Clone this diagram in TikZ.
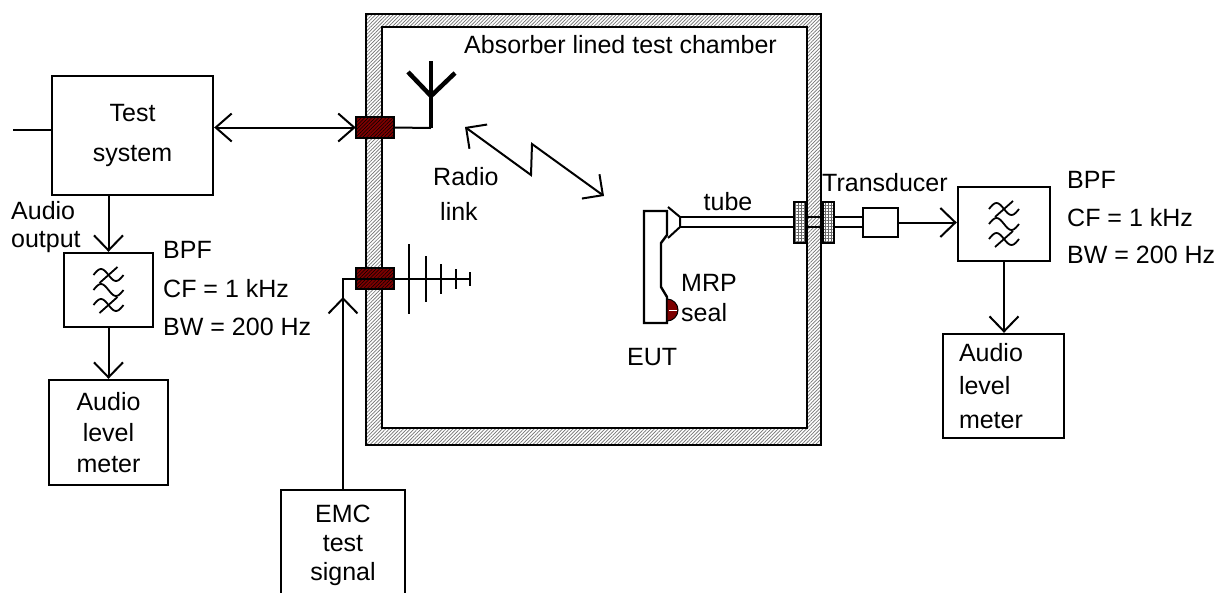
\documentclass[tikz,border=0pt]{standalone}
\usepackage{fontspec}
\setmainfont{Liberation Sans}
\usetikzlibrary{arrows.meta,patterns.meta}
\definecolor{connred}{RGB}{125,0,0}
% band pass filter glyph, three tildes
\def\bpfsym(#1){%
	\begin{scope}[shift={(#1)}, line width=1.8pt]
		\foreach \dy in {-15,0,15}
			\draw plot[smooth, domain=-15:15, samples=21] (\x, {\dy+6*sin(12*\x)});
		\draw (-9,-7) -- (9,-23);
		\draw (-9,23) -- (9,7);
	\end{scope}}

\tikzset{
	lbl/.style={inner sep=0pt, font=\fontsize{25}{30}\selectfont},
	box/.style={draw, rectangle, line width=2.4pt, inner sep=0pt, font=\fontsize{25}{31}\selectfont},
	sig/.style={line width=2pt},
	arr/.style={sig, -{Straight Barb[length=15pt,width=29pt,line width=2pt]}},
	dbl/.style={sig, {Straight Barb[length=16pt,width=28pt,line width=2pt]}-{Straight Barb[length=16pt,width=28pt,line width=2pt]}},
	zig/.style={sig, {Straight Barb[length=15pt,width=30pt,line width=2pt]}-{Straight Barb[length=15pt,width=30pt,line width=2pt]}},
	wall/.style={line width=2.4pt, preaction={fill=white}, pattern={Lines[angle=45,distance=2.5pt,line width=0.7pt]}, pattern color=black!55},
	conn/.style={draw, line width=2.4pt, minimum width=38pt, minimum height=21pt, inner sep=0pt, preaction={fill=connred}, pattern={Lines[angle=45,distance=2.5pt,line width=0.5pt]}, pattern color=black},
	gland/.style={line width=2pt, preaction={fill=white}, pattern={Hatch[distance=3pt,line width=0.5pt]}, pattern color=black!60},
}

\begin{document}
\begin{tikzpicture}[x=1pt, y=-1pt]
		\useasboundingbox (0,0) rectangle (1221,592);
		
		%%%%% CHAMBER %%%%%
		\draw[wall] (366,14) rectangle (821,445);
		\draw[line width=2.4pt, fill=white] (382,27) rectangle (807,428);
		\node[lbl, anchor=west] (title) at (464,45) {Absorber lined test chamber};
		
		\node[conn] (connA) at (375,127.5) {};
		\node[conn] (connB) at (375,278.5) {};
		
		%%%%% LEFT SIDE %%%%%
		\node[box, minimum width=161pt, minimum height=119pt, align=center, font=\fontsize{25}{40}\selectfont] (testsys) at (132.5,135.5) {Test\\system};
		\node[box, minimum width=89pt, minimum height=74pt] (bpfL) at (108.5,290) {};
		\node[box, minimum width=119pt, minimum height=105pt, align=center] (meterL) at (108.5,432.5) {Audio\\level\\meter};
		\bpfsym(bpfL.center)
		
		\node[lbl, anchor=west, align=left, font=\fontsize{25}{28}\selectfont] (audioout) at (11,227) {Audio\\output};
		\node[lbl, anchor=west, align=left, font=\fontsize{25}{38.5}\selectfont] (bpfLtxt) at (163,289) {BPF\\CF = 1 kHz\\BW = 200 Hz};
		
		\coordinate (sysin) at (13,130);
		\draw[sig] (sysin) -- (sysin -| testsys.west);
		\draw[dbl] (connA.west -| testsys.east) -- (connA.west);
		\draw[arr] (testsys.south -| bpfL.north) -- (bpfL.north);
		\draw[arr] (bpfL) -- (meterL);
		
		%%%%% EMC SIGNAL %%%%%
		\node[box, minimum width=124pt, minimum height=110pt, align=center, font=\fontsize{25}{29}\selectfont] (emc) at (343,545) {EMC\\test\\signal};
		\coordinate (lpend) at (470,279);
		\coordinate (emcup) at (343,297);
		\draw[sig] (emc.north) |- (lpend);
		\draw[arr] (emc.north) -- (emcup);
		\foreach \xx/\hh in {409/35, 426/23, 441/15, 456/10, 470/7}
			\draw[sig] (\xx,279-\hh) -- (\xx,279+\hh);
		
		%%%%% RADIO ANTENNA %%%%%
		\coordinate (antbase) at (431,128);
		\draw[sig] (connA.east) -- (antbase);
		\draw[line width=4.5pt] (antbase) -- (431,61);
		\draw[line width=4.5pt] (408,72) -- (431,96) -- (455,73);
		
		\draw[zig] (465,127) -- (531,175) -- (532,144) -- (604,196);
		\node[lbl, anchor=west] (radiolbl) at (433,177) {Radio};
		\node[lbl, anchor=west] (linklbl) at (440,211) {link};
		
		%%%%% EUT %%%%%
		\draw[line width=2.4pt] (644,211) -- (667,211) -- (667,235) -- (661,243) -- (661,287) -- (667,297) -- (667,323) -- (644,323) -- cycle;
		\draw[line width=1pt, fill=connred] (667,299) arc[start angle=-90, end angle=90, radius=11] -- cycle;
		\draw[white, line width=1pt] (669,310) -- (677,310);
		\draw[line width=2pt] (668,207) -- (680,217) -- (680,227) -- (668,238);
		\draw[line width=2pt] (680,217) -- (863,217);
		\draw[line width=2pt] (680,227) -- (863,227);
		\draw[gland] (794,202) rectangle (806,243);
		\draw[gland] (823,202) rectangle (834,243);
		
		\node[lbl] (tubelbl) at (728,202) {tube};
		\node[lbl, anchor=west, align=left] (mrplbl) at (681,298) {MRP\\seal};
		\node[lbl, anchor=west] (eutlbl) at (627,357) {EUT};
		
		%%%%% RIGHT SIDE %%%%%
		\node[box, minimum width=35pt, minimum height=29pt] (transd) at (880.5,222.5) {};
		\node[lbl, anchor=west] (transdlbl) at (822,183) {Transducer};
		\node[box, minimum width=92pt, minimum height=74pt] (bpfR) at (1004,224) {};
		\bpfsym(bpfR.center)
		\node[box, minimum width=121pt, minimum height=104pt, text width=89pt, align=left, font=\fontsize{25}{33.5}\selectfont] (meterR) at (1003.5,386) {Audio\\level\\meter};
		\node[lbl, anchor=west, align=left, font=\fontsize{25}{37.5}\selectfont] (bpfRtxt) at (1067,218) {BPF\\CF = 1 kHz\\BW = 200 Hz};
		
		\draw[arr] (transd.east) -- (transd.east -| bpfR.west);
		\draw[arr] (bpfR.south) -- (bpfR.south |- meterR.north);
		
	\end{tikzpicture}
\end{document}
